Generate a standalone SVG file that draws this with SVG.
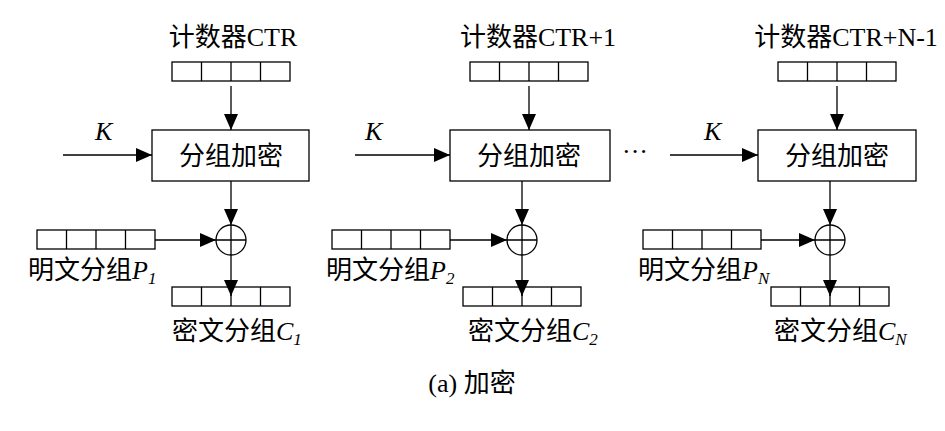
<svg xmlns="http://www.w3.org/2000/svg" width="945" height="431" viewBox="0 0 945 431">
<style>
.b{fill:#fff;stroke:#000;stroke-width:1.3}
.l{stroke:#000;stroke-width:1.3;fill:none}
text{font-family:"Liberation Serif","Noto Sans CJK SC",serif;font-size:26px;fill:#000}
.c{text-anchor:middle}
.i{font-style:italic}
.s{font-size:17px;font-style:italic}
</style>
<defs>
<marker id="a" markerWidth="16" markerHeight="14" refX="16" refY="7" orient="auto" markerUnits="userSpaceOnUse"><path d="M0,0L16,7L0,14z"/></marker>
<g id="reg"><rect class="b" x="0" y="0" width="118" height="19"/><path class="l" d="M29.5,0v19M59,0v19M88.5,0v19"/></g>
</defs>
<rect width="945" height="431" fill="#fff"/>
<g id="unit1">
<text class="c" x="233" y="46">计数器CTR</text>
<use href="#reg" x="172" y="62"/>
<rect class="b" x="152" y="130" width="157" height="51"/>
<text class="c" x="231" y="165">分组加密</text>
<text class="i" x="95" y="140">K</text>
<circle class="b" cx="231" cy="240" r="15"/><path class="l" d="M216,240h30M231,225v30"/>
<use href="#reg" x="37" y="230"/>
<use href="#reg" x="172" y="287"/>
<text x="28" y="279">明文分组<tspan class="i">P</tspan><tspan class="s" dy="5">1</tspan></text>
<text x="172" y="340">密文分组<tspan class="i">C</tspan><tspan class="s" dy="5">1</tspan></text>
</g>
<g id="unit2" transform="translate(298,0)">
<text class="c" x="240" y="46">计数器CTR+1</text>
<use href="#reg" x="172" y="62"/>
<rect class="b" x="152" y="130" width="160" height="51"/>
<text class="c" x="231" y="165">分组加密</text>
<text class="i" x="67" y="140">K</text>
<circle class="b" cx="224" cy="240" r="15"/><path class="l" d="M209,240h30M224,225v30"/>
<use href="#reg" x="34" y="230"/>
<use href="#reg" x="165" y="287"/>
<text x="28" y="279">明文分组<tspan class="i">P</tspan><tspan class="s" dy="5">2</tspan></text>
<text x="170" y="340">密文分组<tspan class="i">C</tspan><tspan class="s" dy="5">2</tspan></text>
</g>
<g id="unit3" transform="translate(606,0)">
<text class="c" x="240" y="46">计数器CTR+N-1</text>
<use href="#reg" x="172" y="62"/>
<rect class="b" x="152" y="130" width="158" height="51"/>
<text class="c" x="231" y="165">分组加密</text>
<text class="i" x="98" y="140">K</text>
<circle class="b" cx="224" cy="240" r="15"/><path class="l" d="M209,240h30M224,225v30"/>
<use href="#reg" x="37" y="230"/>
<use href="#reg" x="165" y="287"/>
<text x="32" y="279">明文分组<tspan class="i">P</tspan><tspan class="s" dy="5">N</tspan></text>
<text x="168" y="340">密文分组<tspan class="i">C</tspan><tspan class="s" dy="5">N</tspan></text>
</g>
<text x="622" y="160">···</text>
<text class="c" x="472" y="392">(a) 加密</text>
<g id="connectors" class="l" marker-end="url(#a)">
<path d="M231,86V130"/><path d="M63,155H152"/><path d="M231,181V225"/><path d="M155,240H216"/><path d="M231,255V296"/>
<path d="M529,86V130"/><path d="M355,155H450"/><path d="M522,181V225"/><path d="M450,240H507"/><path d="M522,255V296"/>
<path d="M837,86V130"/><path d="M670,155H758"/><path d="M830,181V225"/><path d="M761,240H815"/><path d="M830,255V296"/>
</g>
</svg>
